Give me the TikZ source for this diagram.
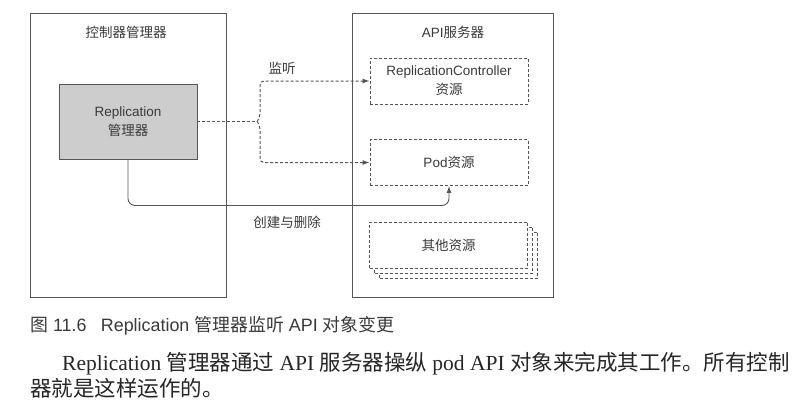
\documentclass[tikz,border=0pt]{standalone}
\usepackage{fontspec}
\setmainfont{Liberation Serif}
\setsansfont{Liberation Sans}
\newfontfamily\zhfont{Noto Sans CJK SC}
\usepackage{xcolor}
\usepackage{tikz}
\usetikzlibrary{arrows.meta}

\newcommand{\zh}[1]{{\zhfont #1}}
\newcommand{\figfont}{\sffamily\fontsize{13.5}{19}\selectfont}
\newcommand{\capfont}{\sffamily\fontsize{17.9}{20}\selectfont}
\newcommand{\bodyfont}{\rmfamily\fontsize{21.5}{26}\selectfont}

\definecolor{ink}{HTML}{3A3A3A}
\definecolor{frame}{HTML}{555555}
\definecolor{mgrfill}{HTML}{CDCDCD}

\tikzset{
  outerbox/.style={draw=frame, line width=0.9pt, minimum width=196pt, minimum height=284pt},
  mgrbox/.style={draw=frame, fill=mgrfill, line width=0.9pt, minimum width=138pt, minimum height=75pt, align=center, text=ink, font=\figfont},
  resbox/.style={draw=frame, fill=white, densely dashed, line width=0.9pt, minimum width=158pt, minimum height=46pt, align=center, text=ink, font=\figfont},
  lbl/.style={text=ink, font=\figfont},
  watch/.style={draw=frame, densely dashed, line width=1pt},
  create/.style={draw=frame, line width=0.9pt, rounded corners=7pt, -{Latex[length=7pt, width=5pt]}},
}

\begin{document}
\begin{tikzpicture}[x=1pt, y=-1pt]
            \useasboundingbox (0, 0) rectangle (797, 418);
            \fill [white] (0, 0) rectangle (797, 418);
            \node (ctrl) at (128, 155) [outerbox] {};
            \node (api) at (452.5, 155) [outerbox, minimum width=201pt] {};
            \node (ctrltitle) at (126, 32) [lbl] {\zh{控制器管理器}};
            \node (apititle) at (453, 32) [lbl] {API\zh{服务器}};
            \node (repl) at (128, 121.5) [mgrbox] {Replication\\\zh{管理器}};
            \node (rc) at (449, 81) [resbox] {ReplicationController\\\zh{资源}};
            \node (pod) at (449, 162.5) [resbox] {Pod\zh{资源}};
            \node (other3) at (458.5, 255) [resbox] {};
            \node (other2) at (453.5, 250) [resbox] {};
            \node (other) at (448.5, 245) [resbox] {\zh{其他资源}};
            \coordinate (fork) at (257, 121.5);
            \draw [watch] (repl.east) -- (fork);
            \draw [watch, rounded corners=4pt, -{Latex[length=7pt, width=5pt]}] (fork) -- ++(3, -4) |- (rc.west);
            \draw [watch, rounded corners=4pt, -{Latex[length=7pt, width=5pt]}] (fork) -- ++(3, 4) |- (pod.west);
            \draw [create] (repl.south) -- ++(0, 46) -| (pod.south);
            \node (watchlbl) at (282, 68) [lbl] {\zh{监听}};
            \node (createlbl) at (287, 222) [lbl] {\zh{创建与删除}};
            \node (caption) at (30, 331) [anchor=base west, inner sep=0pt, text=ink, font=\capfont] {\zh{图} 11.6\hspace{0.8em}Replication \zh{管理器监听} API \zh{对象变更}};
            \node (body1) at (62, 370) [anchor=base west, inner sep=0pt, text=black!85, font=\bodyfont] {Replication \zh{管理器通过} API \zh{服务器操纵} pod API \zh{对象来完成其工作。所有控制}};
            \node (body2) at (30, 396) [anchor=base west, inner sep=0pt, text=black!85, font=\bodyfont] {\zh{器就是这样运作的。}};
        \end{tikzpicture}
\end{document}
